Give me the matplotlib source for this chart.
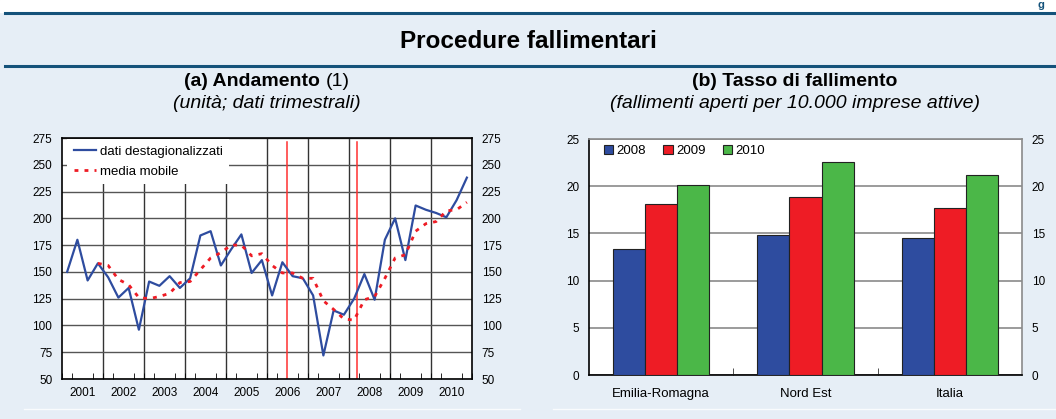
import numpy as np
import matplotlib
matplotlib.use('Agg')
import matplotlib.pyplot as plt
from matplotlib.lines import Line2D
from matplotlib.patches import Rectangle

plt.rcParams['font.family'] = ['Liberation Sans', 'DejaVu Sans']

# (a) fallimenti trimestrali 2001-2010
years = list(range(2001, 2011))
dati = [150, 180, 142, 158, 145, 126, 135, 96, 141, 137,
        146, 135, 144, 184, 188, 156, 171, 185, 149, 161,
        128, 159, 146, 144, 128, 72, 114, 110, 125, 148,
        124, 180, 200, 161, 212, 208, 205, 201, 217, 238]
media = [np.nan, np.nan, np.nan, 158, 156, 143, 138, 126, 125, 127,
         130, 140, 141, 152, 163, 168, 175, 175, 165, 167,
         156, 149, 149, 144, 144, 123, 115, 106, 105, 124,
         127, 144, 163, 166, 188, 195, 197, 207, 208, 215]
riforme = [2006.5, 2008.2]

# (b) tasso di fallimento
regioni = ['Emilia-Romagna', 'Nord Est', 'Italia']
tasso_2008 = [13.4, 14.8, 14.5]
tasso_2009 = [18.1, 18.9, 17.7]
tasso_2010 = [20.1, 22.6, 21.2]

BG = '#E6EEF6'
DARK = '#14527A'
BLUE = '#2E4C9F'
RED = '#EE1C25'
GREEN = '#4BB748'

W, H = 1056, 419


def box(x0, y0, x1, y1):
    return [x0 / W, 1 - y1 / H, (x1 - x0) / W, (y1 - y0) / H]


def main():
    fig = plt.figure(figsize=(W / 100, H / 100), dpi=100, facecolor=BG)

    # header
    fig.patches.append(Rectangle((0, 1 - 12 / H), 1, 12 / H, transform=fig.transFigure,
                                 color='white', zorder=0))
    for yy in [13, 66]:
        fig.add_artist(Line2D([5 / W, 1], [1 - yy / H] * 2, color=DARK, lw=2.2))
    for x0, x1 in [(24, 520), (553, 1056)]:
        fig.add_artist(Line2D([x0 / W, x1 / W], [1 - 409 / H] * 2, color='white', lw=1, alpha=0.8))
    fig.text(1041 / W, 1, 'g', fontsize=8, fontweight='bold', color=DARK,
             ha='center', va='top')
    fig.text(528 / W, 1 - 41 / H, 'Procedure fallimentari', ha='center', va='center',
             fontsize=17.5, fontweight='bold')

    # panel titles
    t1 = fig.text(0, 1 - 81 / H, '(a) Andamento', fontsize=14, fontweight='bold', va='center')
    t2 = fig.text(0, 1 - 81 / H, '(1)', fontsize=14, va='center')
    fig.canvas.draw()
    r = fig.canvas.get_renderer()
    w1 = t1.get_window_extent(r).width
    w2 = t2.get_window_extent(r).width
    sp = 0.278 * 14 * 100 / 72
    x0 = 267 - (w1 + sp + w2) / 2
    t1.set_x(x0 / W)
    t2.set_x((x0 + w1 + sp) / W)
    fig.text(267 / W, 1 - 103 / H, '(unità; dati trimestrali)', fontsize=14, style='italic',
             ha='center', va='center')
    fig.text(795 / W, 1 - 81 / H, '(b) Tasso di fallimento', fontsize=14, fontweight='bold',
             ha='center', va='center')
    fig.text(795 / W, 1 - 103 / H, '(fallimenti aperti per 10.000 imprese attive)', fontsize=14,
             style='italic', ha='center', va='center')

    # (a)
    ax1 = fig.add_axes(box(62, 138, 472, 379))
    ax1.set_facecolor('white')
    quarters = [y + (q + 0.5) / 4 for y in years for q in range(4)]
    ax1.plot(quarters, dati, color=BLUE, lw=1.6, label='dati destagionalizzati', zorder=3)
    ax1.plot(quarters, media, color=RED, lw=2, ls=(0, (1.4, 2.2)), label='media mobile', zorder=3)
    for rf in riforme:
        ax1.axvline(rf, color='#FF3030', lw=1.1, ymax=0.985, zorder=2.5)
    ax1.set_xlim(2001, 2011)
    ax1.set_ylim(50, 275)
    ax1.set_yticks(range(50, 276, 25))
    ax1.grid(axis='y', color='#555555', lw=1)
    ax1.vlines(years[1:], 50, 275, colors='#333333', lw=1, zorder=0.8)
    ax1.set_xticks([y + 0.5 for y in years], [str(y) for y in years])
    ax1.set_xticks(np.arange(2001, 2011.01, 0.25), minor=True)
    ax1.tick_params(axis='y', length=0, labelsize=8.5, labelright=True, pad=7)
    ax1.tick_params(axis='x', which='major', length=0, pad=6, labelsize=8.5)
    ax1.tick_params(axis='x', which='minor', direction='in', length=4, color='black')
    for s in ax1.spines.values():
        s.set_linewidth(1.2)
    ax1.legend(loc='upper left', bbox_to_anchor=(0.012, 0.995), borderaxespad=0, frameon=True,
               fancybox=False, edgecolor='none', facecolor='white', framealpha=1, fontsize=9.5,
               handlelength=1.7, handletextpad=0.3, labelspacing=0.55, borderpad=0.5)

    # (b)
    ax2 = fig.add_axes(box(589, 139, 1022, 375))
    ax2.set_facecolor('white')
    x = np.arange(len(regioni))
    w = 0.223
    ax2.bar(x - w, tasso_2008, w, color=BLUE, edgecolor='#222222', lw=0.8, label='2008', zorder=3)
    ax2.bar(x, tasso_2009, w, color=RED, edgecolor='#222222', lw=0.8, label='2009', zorder=3)
    ax2.bar(x + w, tasso_2010, w, color=GREEN, edgecolor='#222222', lw=0.8, label='2010', zorder=3)
    ax2.set_xlim(-0.5, 2.5)
    ax2.set_ylim(0, 25)
    ax2.set_yticks(range(0, 26, 5))
    ax2.set_axisbelow(True)
    ax2.grid(axis='y', color='#8a8a8a', lw=1.2)
    ax2.set_xticks(x, regioni)
    ax2.set_xticks([0.5, 1.5], minor=True)
    ax2.tick_params(axis='y', length=0, labelsize=8.5, labelright=True, pad=7)
    ax2.tick_params(axis='x', which='major', length=0, pad=9, labelsize=9.5)
    ax2.tick_params(axis='x', which='minor', direction='in', length=5, color='#333333')
    ax2.spines['top'].set_color('#8a8a8a')
    ax2.spines['right'].set_color('#8a8a8a')
    for s in ax2.spines.values():
        s.set_linewidth(1.2)
    ax2.legend(loc='upper left', bbox_to_anchor=(0.035, 0.975), ncol=3, frameon=False,
               handlelength=0.7, handleheight=0.7, handletextpad=0.25, columnspacing=1.3,
               borderaxespad=0, borderpad=0, fontsize=9.5)

    fig.savefig('out.png', dpi=100, facecolor=fig.get_facecolor())


if __name__ == '__main__':
    main()
